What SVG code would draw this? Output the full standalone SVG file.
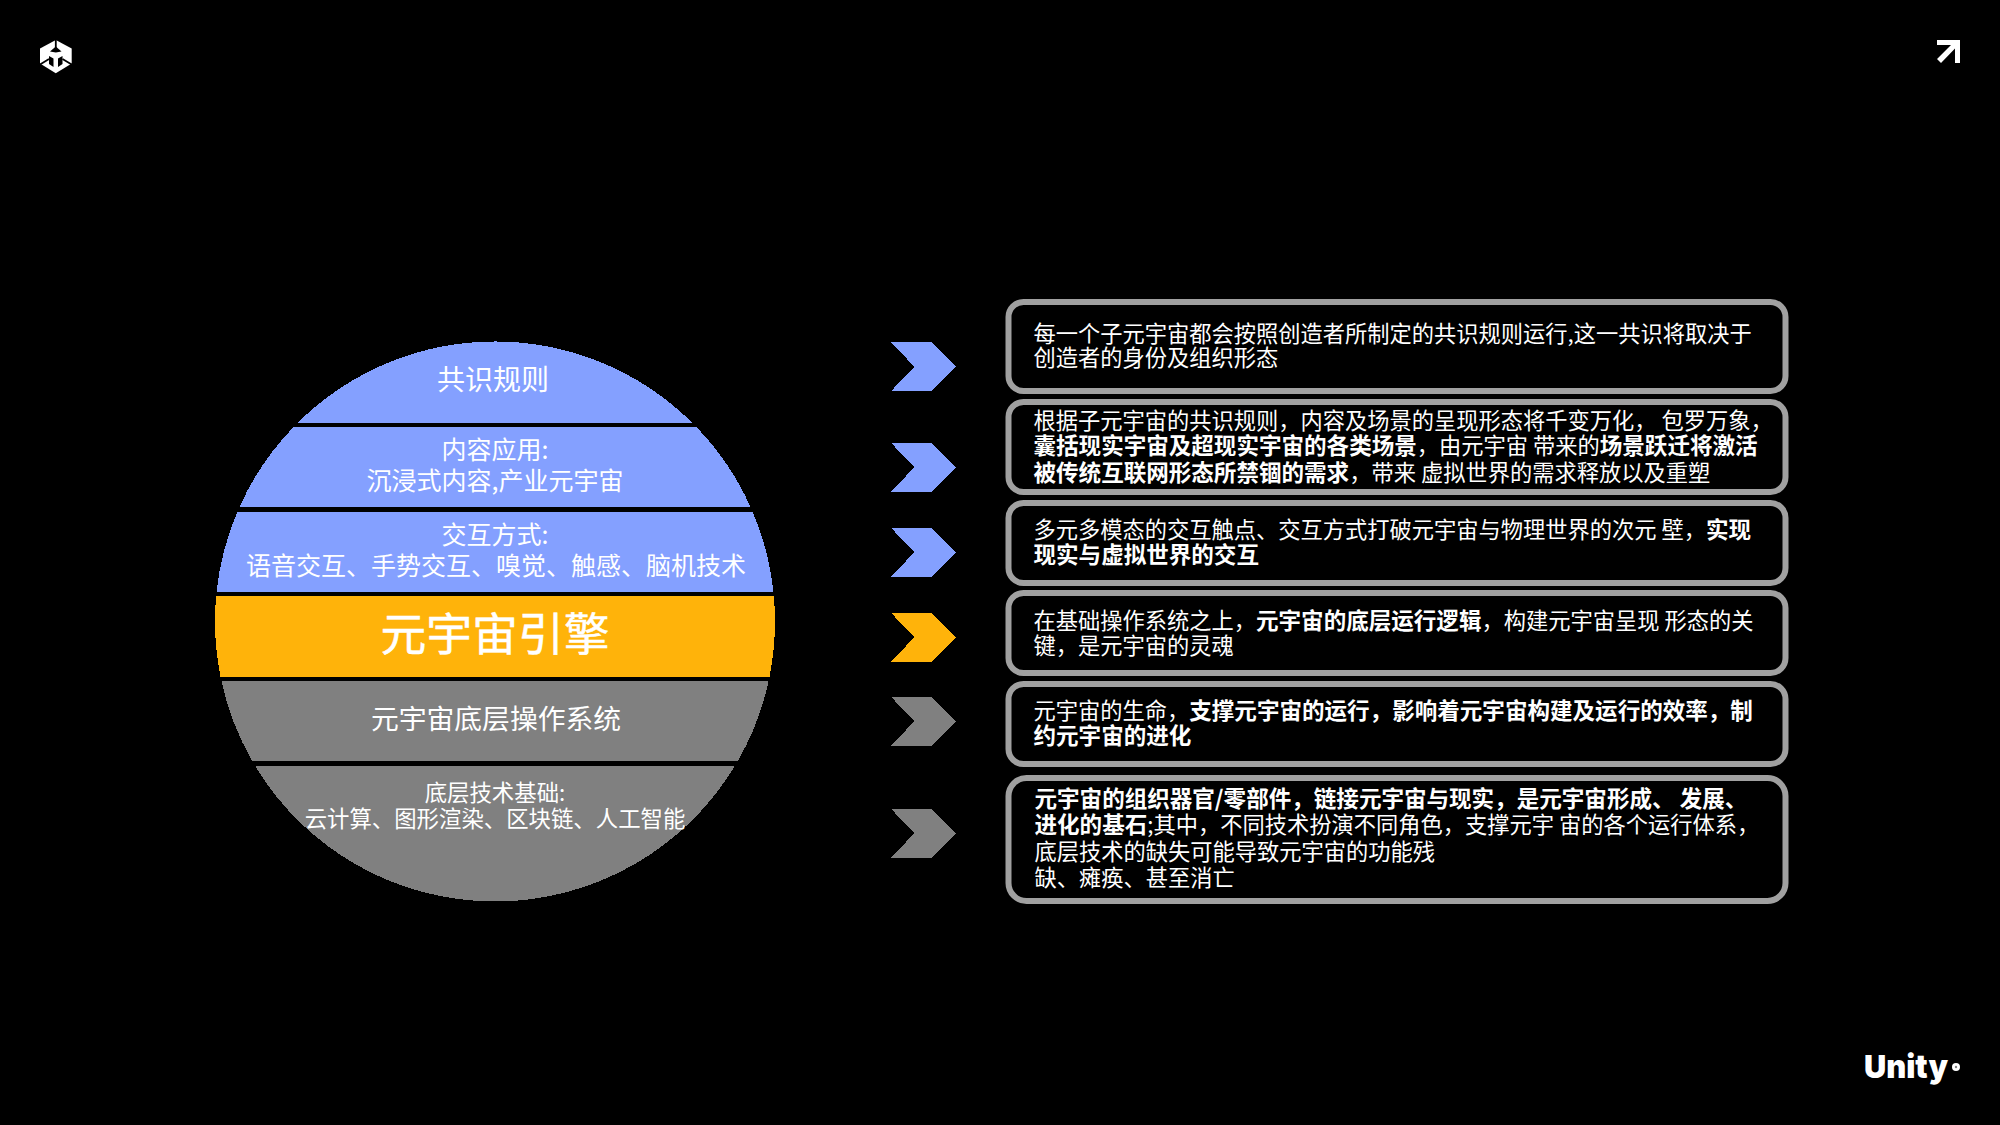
<svg xmlns="http://www.w3.org/2000/svg" width="2000" height="1125" viewBox="0 0 2000 1125">
<style>
text{font-family:"Noto Sans CJK SC","Noto Sans",sans-serif;fill:#fff}
.c{text-anchor:middle}
.t{font-size:22.25px}
.b{font-weight:700;font-size:22.55px}
.blue{fill:#84a0ff}.or{fill:#ffb30a}.gr{fill:#808080}
.seg,.chev{shape-rendering:crispEdges}
.box{fill:#000;stroke:#a0a0a0;stroke-width:6}
</style>
<defs>
<path id="chev" d="M891 -24.500L931.700 -24.500L956 0L931.700 24.500L891 24.500L914.300 0Z"/>
</defs>
<rect width="2000" height="1125" fill="#000"/>
<g id="logo-cube">
<path fill="#fff" d="M55.800 40L71.700 48.500V63.500L55.800 73.300L40 63.500V48.500Z"/>
<path fill="none" stroke="#000" stroke-width="1.800" d="M55.800 39V48M40 64.500L49 59M71.700 64.500L62.500 59"/>
<path fill="#000" d="M55.800 46.500L61.500 51.500L55.800 52.500L50 51.500Z"/>
<path fill="#000" d="M49 56L53.500 58.500V67L49 64ZM62.500 56L58 58.500V67L62.500 64Z"/>
</g>
<g id="logo-arrow" fill="#fff"><path d="M1937 40H1960V63H1955V48.500L1941 63L1937 59L1951 45H1937Z"/></g>
<g id="logo-unity"><text x="1864" y="1078" font-size="32" style="font-family:Inter,sans-serif;font-weight:900" textLength="84" lengthAdjust="spacingAndGlyphs">Unity</text><circle cx="1956" cy="1067" r="4" fill="#fff"/><circle cx="1956" cy="1067" r="1.200" fill="#808080"/></g>

<g id="layer-1"><path class="seg blue" d="M297.800 422.700A280 280 0 0 1 692.200 422.700Z"/><text class="c" x="493" y="390" font-size="28">共识规则</text></g>
<g id="layer-2"><path class="seg blue" d="M293.600 427H696.400A280 280 0 0 1 750.400 506.700H239.600A280 280 0 0 1 293.600 427Z"/><text class="c" x="495" y="459" font-size="25">内容应用:</text><text class="c" x="495" y="489.500" font-size="25">沉浸式内容,产业元宇宙</text></g>
<g id="layer-3"><path class="seg blue" d="M237.300 512H752.700A280 280 0 0 1 773.400 591.700H216.600A280 280 0 0 1 237.300 512Z"/><text class="c" x="495" y="544" font-size="25">交互方式:</text><text class="c" x="496" y="574.500" font-size="25">语音交互、手势交互、嗅觉、触感、脑机技术</text></g>
<g id="layer-4"><path class="seg or" d="M216.200 595.700H773.800A280 280 0 0 1 769.500 676.700H220.500A280 280 0 0 1 216.200 595.700Z"/><text class="c" x="495" y="651" font-size="45.800" stroke="#fff" stroke-width=".5">元宇宙引擎</text></g>
<g id="layer-5"><path class="seg gr" d="M221.300 680.700H768.700A280 280 0 0 1 738 760.700H252A280 280 0 0 1 221.300 680.700Z"/><text class="c" x="496" y="729" font-size="27.800">元宇宙底层操作系统</text></g>
<g id="layer-6"><path class="seg gr" d="M255 765.700H735A280 280 0 0 1 255 765.700Z"/><text class="c" x="495" y="801" font-size="22.400">底层技术基础:</text><text class="c" x="495" y="827" font-size="22.400">云计算、图形渲染、区块链、人工智能</text></g>

<g id="connectors">
<use href="#chev" class="chev blue" y="366.700"/>
<use href="#chev" class="chev blue" y="467.300"/>
<use href="#chev" class="chev blue" y="552.300"/>
<use href="#chev" class="chev or" y="637.300"/>
<use href="#chev" class="chev gr" y="721.300"/>
<use href="#chev" class="chev gr" y="833.300"/>
</g>

<g id="card-1"><rect class="box" x="1008.500" y="302" width="777" height="89" rx="15"/>
<text class="t" x="1033.500" y="342">每一个子元宇宙都会按照创造者所制定的共识规则运行,这一共识将取决于</text>
<text class="t" x="1033.500" y="366">创造者的身份及组织形态</text></g>
<g id="card-2"><rect class="box" x="1008.500" y="402" width="777" height="90" rx="15"/>
<text class="t" x="1033.500" y="428.500">根据子元宇宙的共识规则，内容及场景的呈现形态将千变万化， 包罗万象，</text>
<text class="t" x="1033.500" y="453.500"><tspan class="b">囊括现实宇宙及超现实宇宙的各类场景</tspan>，由元宇宙 带来的<tspan class="b">场景跃迁将激活</tspan></text>
<text class="t" x="1033.500" y="481"><tspan class="b">被传统互联网形态所禁锢的需求</tspan>，带来 虚拟世界的需求释放以及重塑</text></g>
<g id="card-3"><rect class="box" x="1008.500" y="503" width="777" height="80" rx="15"/>
<text class="t" x="1033.500" y="538">多元多模态的交互触点、交互方式打破元宇宙与物理世界的次元 壁，<tspan class="b">实现</tspan></text>
<text class="b" x="1033.500" y="562.500">现实与虚拟世界的交互</text></g>
<g id="card-4"><rect class="box" x="1008.500" y="593" width="777" height="80" rx="15"/>
<text class="t" x="1033.500" y="628.500">在基础操作系统之上，<tspan class="b">元宇宙的底层运行逻辑</tspan>，构建元宇宙呈现 形态的关</text>
<text class="t" x="1033.500" y="653.500">键，是元宇宙的灵魂</text></g>
<g id="card-5"><rect class="box" x="1008.500" y="684" width="777" height="80" rx="15"/>
<text class="t" x="1033.500" y="718.500">元宇宙的生命，<tspan class="b">支撑元宇宙的运行，影响着元宇宙构建及运行的效率，制</tspan></text>
<text class="b" x="1033.500" y="743.500">约元宇宙的进化</text></g>
<g id="card-6"><rect class="box" x="1008.500" y="778" width="777" height="123" rx="18"/>
<text class="b" x="1034.500" y="807">元宇宙的组织器官/零部件，链接元宇宙与现实，是元宇宙形成、 发展、</text>
<text class="t" x="1034.500" y="833"><tspan class="b">进化的基石</tspan>;其中，不同技术扮演不同角色，支撑元宇 宙的各个运行体系，</text>
<text class="t" x="1034.500" y="859.500">底层技术的缺失可能导致元宇宙的功能残</text>
<text class="t" x="1034.500" y="885.500">缺、瘫痪、甚至消亡</text></g>
</svg>
